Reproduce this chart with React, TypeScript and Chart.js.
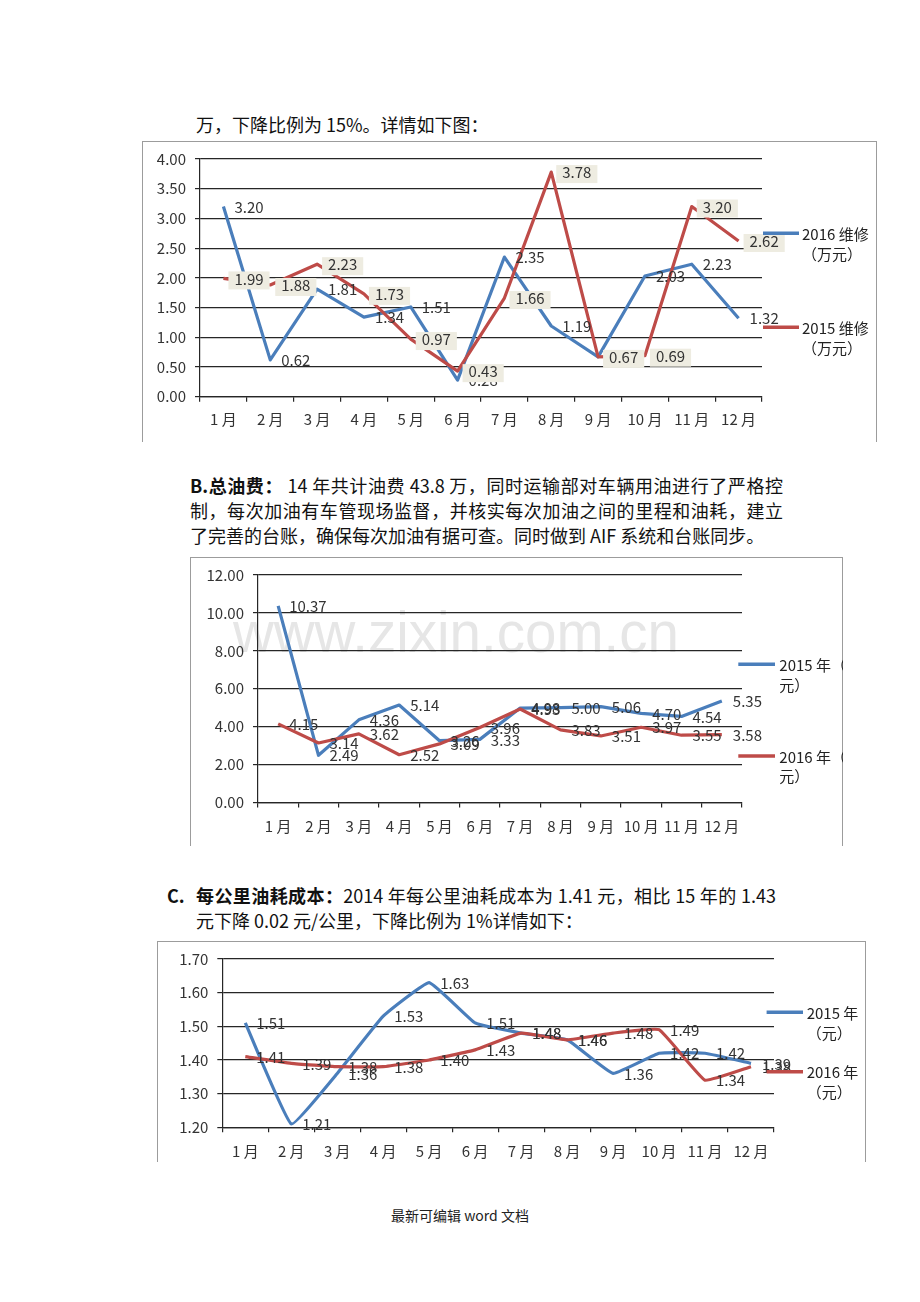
import React, { useEffect, useRef } from 'react';
import { Chart, registerables } from 'chart.js';

Chart.register(...registerables);

const FONT = '"Noto Sans CJK SC", "Noto Sans", sans-serif';

// ---------- data ----------
const months = ['1 月', '2 月', '3 月', '4 月', '5 月', '6 月', '7 月', '8 月', '9 月', '10 月', '11 月', '12 月'];

const repair2016 = [3.2, 0.62, 1.81, 1.34, 1.51, 0.28, 2.35, 1.19, 0.67, 2.03, 2.23, 1.32];
const repair2015 = [1.99, 1.88, 2.23, 1.73, 0.97, 0.43, 1.66, 3.78, 0.67, 0.69, 3.2, 2.62];
const repairNames = [['2016 维修', '（万元）'], ['2015 维修', '（万元）']];

const fuel2015 = [10.37, 2.49, 4.36, 5.14, 3.26, 3.33, 4.98, 5.0, 5.06, 4.7, 4.54, 5.35];
const fuel2016 = [4.15, 3.14, 3.62, 2.52, 3.09, 3.96, 4.93, 3.83, 3.51, 3.97, 3.55, 3.58];
const fuelNames = [['2015 年（', '元）'], ['2016 年（', '元）']];

const cost2015 = [1.51, 1.21, 1.36, 1.53, 1.63, 1.51, 1.48, 1.46, 1.36, 1.42, 1.42, 1.39];
const cost2016 = [1.41, 1.39, 1.38, 1.38, 1.4, 1.43, 1.48, 1.46, 1.48, 1.49, 1.34, 1.38];
const costNames = [['2015 年', '（元）'], ['2016 年', '（元）']];

const BLUE = '#4A7EBB';
const RED = '#BE4B48';
const LABEL_BOX = '#EEECE1';
const GRID = '#262626';

type Series = { data: number[]; color: string; box?: string | null; legend: string[]; legendY: number };

type BoxProps = {
  left: number; top: number; width: number; height: number;
  series: Series[];
  yMin: number; yMax: number; yStep: number;
  padL: number; padT: number; padR: number;
  axisW: number; axisH: number; xPad: number;
  tension: number;
  legendX1: number; legendX2: number; legendTX: number; legendLH: number;
};

function makeLabelPlugin(series: Series[]) {
  return {
    id: 'valueLabels',
    afterDatasetsDraw(chart: any) {
      const ctx = chart.ctx;
      ctx.save();
      ctx.font = `15px ${FONT}`;
      ctx.textBaseline = 'middle';
      ctx.textAlign = 'left';
      series.forEach((s, di) => {
        const meta = chart.getDatasetMeta(di);
        meta.data.forEach((pt: any, i: number) => {
          const txt = Number(s.data[i]).toFixed(2);
          const x = pt.x + 11;
          const y = pt.y + 0.5;
          const w = ctx.measureText(txt).width;
          if (s.box) {
            ctx.fillStyle = s.box;
            ctx.fillRect(x - 6, y + 1.5 - 9, w + 12, 18);
          }
          ctx.fillStyle = '#333';
          ctx.fillText(txt, x, y);
        });
      });
      ctx.restore();
    },
  };
}

function makeLegendPlugin(series: Series[], x1: number, x2: number, tx: number, lh: number) {
  return {
    id: 'sideLegend',
    afterDraw(chart: any) {
      const ctx = chart.ctx;
      ctx.save();
      series.forEach((s) => {
        ctx.strokeStyle = s.color;
        ctx.lineWidth = 3.5;
        ctx.beginPath();
        ctx.moveTo(x1, s.legendY);
        ctx.lineTo(x2, s.legendY);
        ctx.stroke();
        ctx.fillStyle = '#222';
        ctx.font = `15px ${FONT}`;
        ctx.textBaseline = 'middle';
        ctx.textAlign = 'left';
        s.legend.forEach((t, k) => ctx.fillText(t, tx, s.legendY + 1 + k * lh));
      });
      ctx.restore();
    },
  };
}

function LineBox(p: BoxProps) {
  const ref = useRef<HTMLCanvasElement | null>(null);
  useEffect(() => {
    if (!ref.current) return;
    const tickFont = { size: 15, family: FONT };
    const chart = new Chart(ref.current, {
      type: 'line',
      data: {
        labels: months,
        datasets: p.series.map((s, i) => ({
          data: s.data,
          borderColor: s.color,
          backgroundColor: s.color,
          borderWidth: 3.2,
          pointRadius: 0,
          tension: p.tension,
          fill: false,
          borderJoinStyle: 'round' as const,
          order: p.series.length - i,
        })),
      },
      options: {
        responsive: false,
        animation: false,
        devicePixelRatio: 1,
        layout: { padding: { left: p.padL, top: p.padT, right: p.padR, bottom: 0 } },
        plugins: { legend: { display: false }, tooltip: { enabled: false } },
        scales: {
          x: {
            type: 'category',
            offset: true,
            grid: { offset: true, drawOnChartArea: false, drawTicks: true, tickLength: 5, color: GRID, lineWidth: 1.2 },
            border: { display: true, color: GRID, width: 1.2 },
            ticks: { font: tickFont, color: '#333', padding: p.xPad, maxRotation: 0, autoSkip: false },
            afterFit: (s: any) => { s.height = p.axisH; },
          },
          y: {
            min: p.yMin,
            max: p.yMax,
            grid: { color: GRID, lineWidth: 1.2, drawTicks: true, tickLength: 5 },
            border: { display: true, color: GRID, width: 1.2 },
            ticks: {
              stepSize: p.yStep,
              font: tickFont,
              color: '#333',
              padding: 9,
              callback: (v: any) => Number(v).toFixed(2),
            },
            afterFit: (s: any) => { s.width = p.axisW; },
          },
        },
      } as any,
      plugins: [
        makeLabelPlugin(p.series),
        makeLegendPlugin(p.series, p.legendX1, p.legendX2, p.legendTX, p.legendLH),
      ],
    });
    return () => chart.destroy();
  }, []);
  return (
    <>
      <div
        style={{
          position: 'absolute', left: p.left, top: p.top, width: p.width, height: p.height,
          boxSizing: 'border-box', borderTop: '1px solid #9c9c9c', borderLeft: '1px solid #9c9c9c',
          borderRight: '1px solid #9c9c9c',
        }}
      />
      <canvas
        ref={ref}
        width={p.width}
        height={p.height}
        style={{ position: 'absolute', left: p.left, top: p.top, width: p.width, height: p.height }}
      />
    </>
  );
}

const textStyle: React.CSSProperties = {
  position: 'absolute',
  fontFamily: FONT,
  fontSize: 18,
  lineHeight: '25px',
  color: '#111',
  whiteSpace: 'nowrap',
};

const justified: React.CSSProperties = {
  ...textStyle,
  whiteSpace: 'normal',
  textAlign: 'justify',
  textAlignLast: 'justify' as any,
};

export default function App() {
  return (
    <div style={{ position: 'absolute', left: 0, top: 0, width: 920, height: 1302, background: '#fff', overflow: 'hidden' }}>
      <div style={{ ...textStyle, left: 196, top: 111.5 }}>万，下降比例为 15%。详情如下图：</div>

      <LineBox
        left={142} top={141} width={735} height={301}
        series={[
          { data: repair2016, color: BLUE, box: null, legend: repairNames[0], legendY: 92.3 },
          { data: repair2015, color: RED, box: LABEL_BOX, legend: repairNames[1], legendY: 186.3 },
        ]}
        yMin={0} yMax={4} yStep={0.5}
        padL={0} padT={16.5} padR={115} axisW={58} axisH={45.3} xPad={9}
        tension={0}
        legendX1={621} legendX2={657} legendTX={660} legendLH={20}
      />

      <div style={{ ...justified, left: 190, top: 472.5, width: 593 }}>
        <b>B.总油费：</b> 14 年共计油费 43.8 万，同时运输部对车辆用油进行了严格控
      </div>
      <div style={{ ...justified, left: 190, top: 497.5, width: 593 }}>
        制，每次加油有车管现场监督，并核实每次加油之间的里程和油耗，建立
      </div>
      <div style={{ ...textStyle, left: 190, top: 522.5 }}>
        了完善的台账，确保每次加油有据可查。同时做到 AIF 系统和台账同步。
      </div>

      <div
        style={{
          position: 'absolute', left: 233, top: 604.6, fontFamily: '"Liberation Sans", Arial, sans-serif',
          fontSize: 56.5, lineHeight: '56px', color: '#e6e6e6', whiteSpace: 'nowrap',
        }}
      >
        www.zixin.com.cn
      </div>

      <LineBox
        left={190} top={557} width={653} height={289}
        series={[
          { data: fuel2015, color: BLUE, box: null, legend: fuelNames[0], legendY: 107.3 },
          { data: fuel2016, color: RED, box: null, legend: fuelNames[1], legendY: 199 },
        ]}
        yMin={0} yMax={12} yStep={2}
        padL={0} padT={15.5} padR={101} axisW={68} axisH={43.5} xPad={10}
        tension={0}
        legendX1={548.3} legendX2={585} legendTX={589.3} legendLH={19.5}
      />

      <div style={{ ...textStyle, left: 167, top: 882.5, fontWeight: 'bold' }}>C.</div>
      <div style={{ ...justified, left: 196, top: 882.5, width: 580 }}>
        <b>每公里油耗成本：</b>2014 年每公里油耗成本为 1.41 元，相比 15 年的 1.43
      </div>
      <div style={{ ...textStyle, left: 196, top: 907.5 }}>元下降 0.02 元/公里，下降比例为 1%详情如下：</div>

      <LineBox
        left={157} top={941} width={709} height={221}
        series={[
          { data: cost2015, color: BLUE, box: null, legend: costNames[0], legendY: 71.3 },
          { data: cost2016, color: RED, box: null, legend: costNames[1], legendY: 130.7 },
        ]}
        yMin={1.2} yMax={1.7} yStep={0.1}
        padL={0} padT={13} padR={92} axisW={65.3} axisH={34.7} xPad={10}
        tension={0.1}
        legendX1={609.6} legendX2={646} legendTX={649.7} legendLH={20}
      />

      <div
        style={{
          position: 'absolute', left: 0, width: 920, top: 1205.2, textAlign: 'center', fontFamily: FONT,
          fontSize: 14, lineHeight: '20px', color: '#222',
        }}
      >
        最新可编辑 word 文档
      </div>
    </div>
  );
}
